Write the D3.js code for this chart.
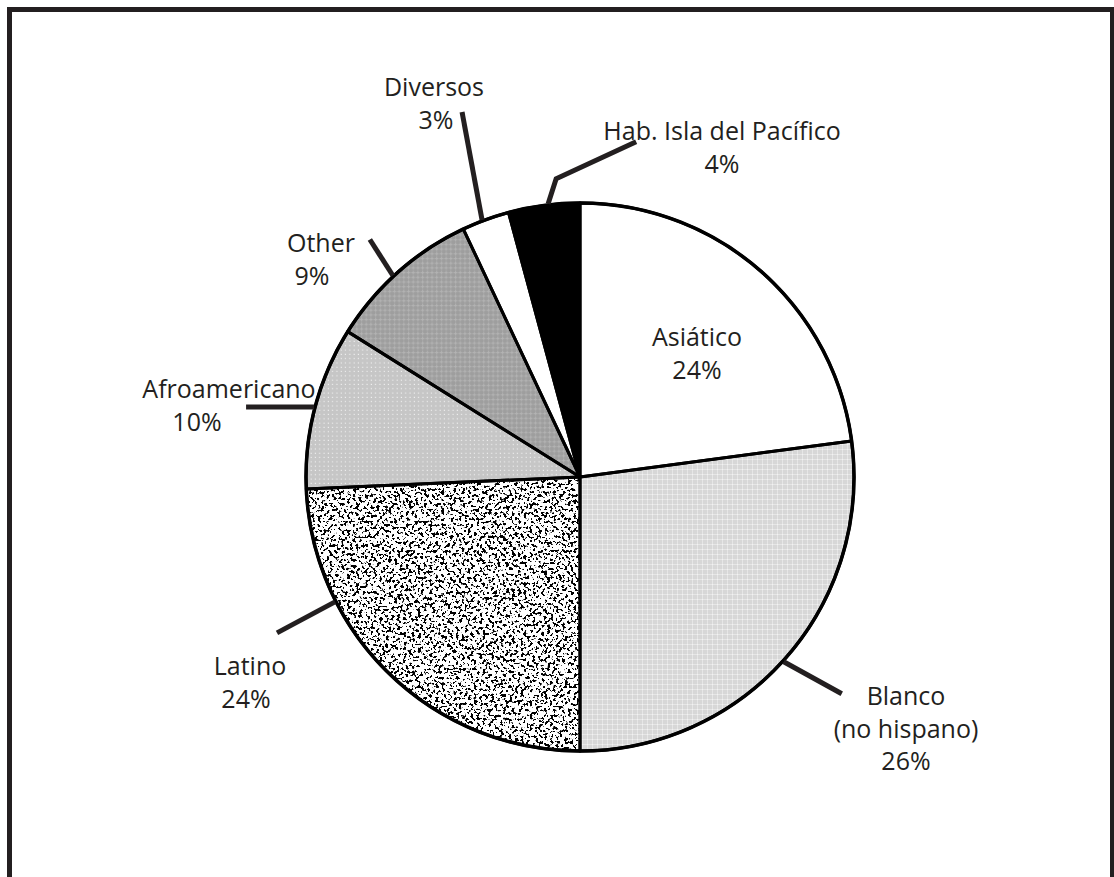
<!DOCTYPE html>
<html><head><meta charset="utf-8">
<script src="https://cdn.jsdelivr.net/npm/d3@7/dist/d3.min.js"></script>
<style>html,body{margin:0;padding:0;background:#fff;}svg{display:block;}</style>
</head><body>
<script>
// ---- data ----
const categories = ["Asiático", "Blanco (no hispano)", "Latino", "Afroamericano", "Other", "Diversos", "Hab. Isla del Pacífico"];
const values = [22.9, 27.1, 24.3, 9.6, 9.1, 2.8, 4.2];
const percentLabels = ["24%", "26%", "24%", "10%", "9%", "3%", "4%"];

// ---- layout ----
const W = 1114, H = 877;
const cx = 580, cy = 477, R = 274;
const ink = "#231f20";
const fills = ["#ffffff", "url(#pBlanco)", "#ffffff", "url(#pAfro)", "url(#pOther)", "#ffffff", "#000000"];
// px: x of the percent line (defaults to x)
const labelLayout = [
  {inside: true, x: 697, y: 346, lines: ["Asiático"]},
  {t: 0.51, pts: [[58, 32]], x: 906, y: 705, lines: ["Blanco", "(no hispano)"]},
  {t: 0.72, pts: [[-58, 31]], x: 250, y: 675, px: 246, lines: ["Latino"]},
  {t: 0.50, pts: [[-68, 0]], x: 229, y: 398, px: 197, lines: ["Afroamericano"]},
  {t: 0.46, pts: [[-23, -36]], x: 321, y: 252, px: 312, lines: ["Other"]},
  {t: 0.43, pts: [[-20, -108]], x: 434, y: 96, px: 436, lines: ["Diversos"]},
  {t: 0.56, pts: [[8, -25], [88, -62]], x: 722, y: 140, lines: ["Hab. Isla del Pacífico"]}
];

const svg = d3.select("body").append("svg").attr("width", W).attr("height", H);
const defs = svg.append("defs");

const pB = defs.append("pattern").attr("id", "pBlanco").attr("patternUnits", "userSpaceOnUse").attr("width", 5).attr("height", 5);
pB.append("rect").attr("width", 5).attr("height", 5).attr("fill", "#d7d7d7");
pB.append("rect").attr("x", 2).attr("y", 0).attr("width", 1).attr("height", 5).attr("fill", "#e6e6e6");
pB.append("rect").attr("x", 0).attr("y", 2).attr("width", 5).attr("height", 1).attr("fill", "#e6e6e6");
pB.append("rect").attr("x", 2).attr("y", 2).attr("width", 1).attr("height", 1).attr("fill", "#f2f2f2");

const pA = defs.append("pattern").attr("id", "pAfro").attr("patternUnits", "userSpaceOnUse").attr("width", 4.3).attr("height", 4.3);
pA.append("rect").attr("width", 4.3).attr("height", 4.3).attr("fill", "#c6c6c6");
pA.append("rect").attr("x", 1.5).attr("y", 1.5).attr("width", 1.1).attr("height", 1.1).attr("fill", "#f4f4f4");

const pO = defs.append("pattern").attr("id", "pOther").attr("patternUnits", "userSpaceOnUse").attr("width", 4.7).attr("height", 4.7);
pO.append("rect").attr("width", 4.7).attr("height", 4.7).attr("fill", "#9e9e9e");
pO.append("rect").attr("x", 2).attr("y", 0.5).attr("width", 1).attr("height", 3.7).attr("fill", "#b4b4b4");
pO.append("rect").attr("x", 0.5).attr("y", 2).attr("width", 3.7).attr("height", 1).attr("fill", "#b4b4b4");

const f = defs.append("filter").attr("id", "speckle").attr("x", 0).attr("y", 0).attr("width", 1).attr("height", 1)
  .attr("color-interpolation-filters", "sRGB");
f.append("feTurbulence").attr("type", "fractalNoise").attr("baseFrequency", 0.34).attr("numOctaves", 2).attr("seed", 7).attr("result", "n");
f.append("feColorMatrix").attr("in", "n").attr("type", "matrix")
  .attr("values", "0 0 0 0 0  0 0 0 0 0  0 0 0 0 0  30 0 0 0 -16.6").attr("result", "dots");
f.append("feFlood").attr("flood-color", "#ffffff").attr("result", "w");
const fm = f.append("feMerge").attr("result", "m");
fm.append("feMergeNode").attr("in", "w");
fm.append("feMergeNode").attr("in", "dots");
f.append("feComposite").attr("in", "m").attr("in2", "SourceGraphic").attr("operator", "in");

svg.append("path")
  .attr("d", `M9.5,${H + 10} L9.5,9.5 L1112.5,9.5 L1112.5,${H + 10}`)
  .attr("fill", "none").attr("stroke", ink).attr("stroke-width", 5);

const pie = d3.pie().sort(null).value(d => d).startAngle(0).endAngle(2 * Math.PI);
const arcs = pie(values);
const arc = d3.arc().innerRadius(0).outerRadius(R);

const g = svg.append("g").attr("transform", `translate(${cx},${cy})`);
g.selectAll("path.slice").data(arcs).join("path").attr("class", "slice")
  .attr("d", arc).attr("fill", (d, i) => fills[i]);
g.append("path").attr("d", arc(arcs[2])).attr("fill", "#000").attr("filter", "url(#speckle)");
g.selectAll("path.outline").data(arcs).join("path").attr("class", "outline")
  .attr("d", arc).attr("fill", "none").attr("stroke", "#000").attr("stroke-width", 3).attr("stroke-linejoin", "round");
g.append("circle").attr("r", R).attr("fill", "none").attr("stroke", "#000").attr("stroke-width", 3.5);

const lbl = svg.append("g").attr("font-family", "'Open Sans', 'Liberation Sans', sans-serif").attr("font-size", 25).attr("fill", ink).attr("text-anchor", "middle");
arcs.forEach((a, i) => {
  const L = labelLayout[i];
  if (!L.inside) {
    const ang = a.startAngle + L.t * (a.endAngle - a.startAngle);
    const sx = cx + (R + 1) * Math.sin(ang), sy = cy - (R + 1) * Math.cos(ang);
    const pts = [[sx, sy]].concat(L.pts.map(p => [sx + p[0], sy + p[1]]));
    svg.append("path").attr("d", d3.line()(pts)).attr("fill", "none").attr("stroke", ink).attr("stroke-width", 5);
  }
  const t = lbl.append("text").attr("x", L.x).attr("y", L.y);
  const all = L.lines.concat([percentLabels[i]]);
  all.forEach((s, k) => {
    const xx = (k === all.length - 1 && L.px !== undefined) ? L.px : L.x;
    t.append("tspan").attr("x", xx).attr("dy", k === 0 ? 0 : 32.5).text(s);
  });
});
</script>
</body></html>
